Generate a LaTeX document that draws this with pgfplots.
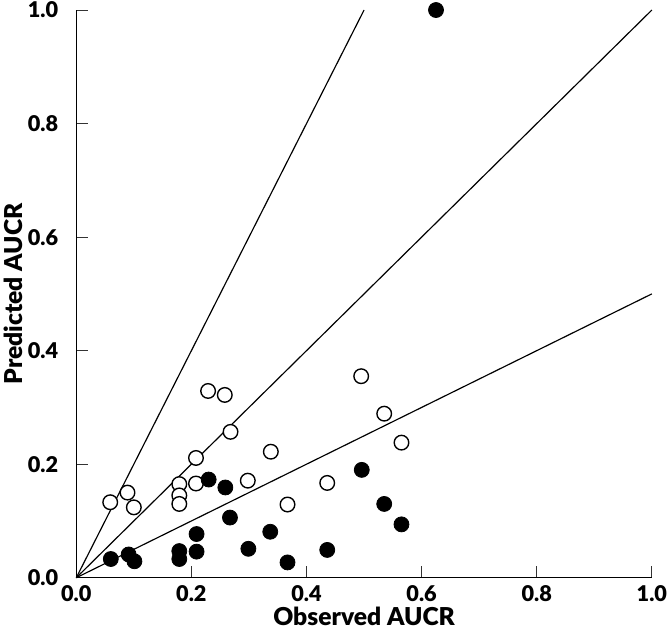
\documentclass[border=0pt]{standalone}
\usepackage{fontspec}
\setmainfont{Lato}
\newfontfamily\blk{Lato Black}
\usepackage{pgfplots}
\pgfplotsset{compat=1.18}
\begin{document}
\begin{tikzpicture}
\begin{axis}[
  scale only axis,
  width=292pt, height=288pt,
  xmin=0, xmax=1, ymin=0, ymax=1,
  axis x line=bottom, axis y line=left,
  axis line style={-, line width=0.65pt},
  tick align=inside,
  major tick length=6pt,
  tick style={line width=0.5pt, black!80},
  xtick={0,0.2,...,1.0}, ytick={0,0.2,...,1.0},
  /pgf/number format/fixed,
  /pgf/number format/fixed zerofill,
  /pgf/number format/precision=1,
  /pgf/number format/assume math mode=true,
  ticklabel style={font=\blk\fontsize{11}{13}\selectfont, inner sep=1pt},
  xticklabel style={yshift=-3pt},
  yticklabel style={xshift=-8pt},
  xlabel={Observed AUCR}, ylabel={Predicted AUCR},
  label style={font=\blk\fontsize{12.5}{15}\selectfont, inner sep=2pt},
  xlabel style={at={(axis description cs:0.5,0)}, anchor=base, yshift=-24pt},
  ylabel style={at={(axis description cs:0,0.5)}, anchor=south, yshift=25pt},
  clip=false,
]
\addplot[no marks, line width=0.6pt] coordinates {(0,0) (0.5,1)};
\addplot[no marks, line width=0.6pt] coordinates {(0,0) (1,1)};
\addplot[no marks, line width=0.6pt] coordinates {(0,0) (1,0.5)};
% open circles
\addplot[only marks, mark=*, mark size=3.7pt, mark options={fill=white, draw=black, line width=0.7pt}] coordinates {
(0.059,0.133) (0.089,0.150) (0.100,0.124)
(0.179,0.165) (0.179,0.145) (0.179,0.130)
(0.208,0.211) (0.208,0.166) (0.229,0.329) (0.258,0.322)
(0.268,0.257) (0.298,0.171) (0.338,0.222) (0.367,0.129)
(0.436,0.167) (0.495,0.355) (0.535,0.289) (0.565,0.238)
};
% filled circles
\addplot[only marks, mark=*, mark size=3.8pt, mark options={fill=black, draw=black}] coordinates {
(0.060,0.033) (0.091,0.041) (0.101,0.029)
(0.179,0.047) (0.179,0.033)
(0.209,0.077) (0.209,0.046) (0.230,0.173) (0.259,0.159)
(0.267,0.106) (0.299,0.051) (0.337,0.081) (0.367,0.027)
(0.436,0.049) (0.496,0.190) (0.535,0.130) (0.565,0.094)
(0.625,1.000)
};
\end{axis}
\end{tikzpicture}
\end{document}
